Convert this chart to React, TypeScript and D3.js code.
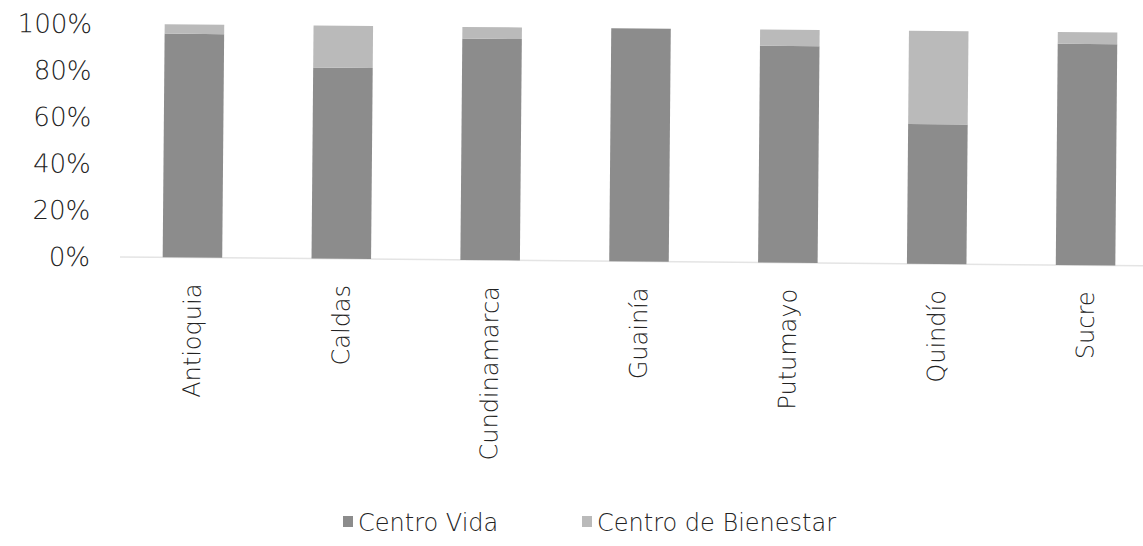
import React from "react";
import * as d3 from "d3";

const categories = ["Antioquia", "Caldas", "Cundinamarca", "Guainía", "Putumayo", "Quindío", "Sucre"];
const centroVida = [96, 82, 95, 100, 93, 60, 95];
const centroBienestar = [4, 18, 5, 0, 7, 40, 5];
const yTicks = [0, 20, 40, 60, 80, 100];
const seriesNames = ["Centro Vida", "Centro de Bienestar"];
const seriesColors = ["#8c8c8c", "#bababa"];

const W = 1143;
const H = 546;
const FONT = "'DejaVu Sans', sans-serif";

export default function App() {
  const x = d3.scaleBand<string>().domain(categories).range([118, 1160]).paddingInner(0.6).paddingOuter(0.3);
  const y = d3.scaleLinear().domain([0, 100]).range([257, 24]);

  const rows = categories.map((c, i) => ({ cat: c, vida: centroVida[i], bien: centroBienestar[i] }));
  const stack = d3.stack<any>().keys(["vida", "bien"])(rows);

  return (
    <svg width={W} height={H} style={{ position: "absolute", left: 0, top: 0, background: "#fff" }}>
      <g transform="rotate(0.5 130 258)">
        <line x1={120} x2={1160} y1={y(0)} y2={y(0)} stroke="#e4e4e4" strokeWidth={1.5} />
        {stack.map((s, si) =>
          s.map((d, i) => (
            <rect
              key={`${si}-${i}`}
              x={x(categories[i])!}
              width={x.bandwidth()}
              y={y(d[1])}
              height={Math.max(0, y(d[0]) - y(d[1]))}
              fill={seriesColors[si]}
            />
          ))
        )}
        {yTicks.map((t) => (
          <text key={t} x={90} y={y(t)} dy="0.36em" textAnchor="end" fontFamily={FONT} fontWeight={200} fontSize={26} fill="#222">
            {t}%
          </text>
        ))}
        {categories.map((c) => (
          <text
            key={c}
            transform={`translate(${x(c)! + x.bandwidth() / 2},${283}) rotate(-90)`}
            dy="0.36em"
            textAnchor="end"
            fontFamily={FONT}
            fontWeight={200}
            fontSize={24}
            fill="#222"
          >
            {c}
          </text>
        ))}
      </g>
      <g>
        <rect x={343} y={516} width={10} height={11} fill={seriesColors[0]} />
        <text x={358} y={522} dy="0.36em" fontFamily={FONT} fontWeight={200} fontSize={24} fill="#222">{seriesNames[0]}</text>
        <rect x={582} y={516} width={10} height={11} fill={seriesColors[1]} />
        <text x={597} y={522} dy="0.36em" fontFamily={FONT} fontWeight={200} fontSize={24} fill="#222">{seriesNames[1]}</text>
      </g>
    </svg>
  );
}
